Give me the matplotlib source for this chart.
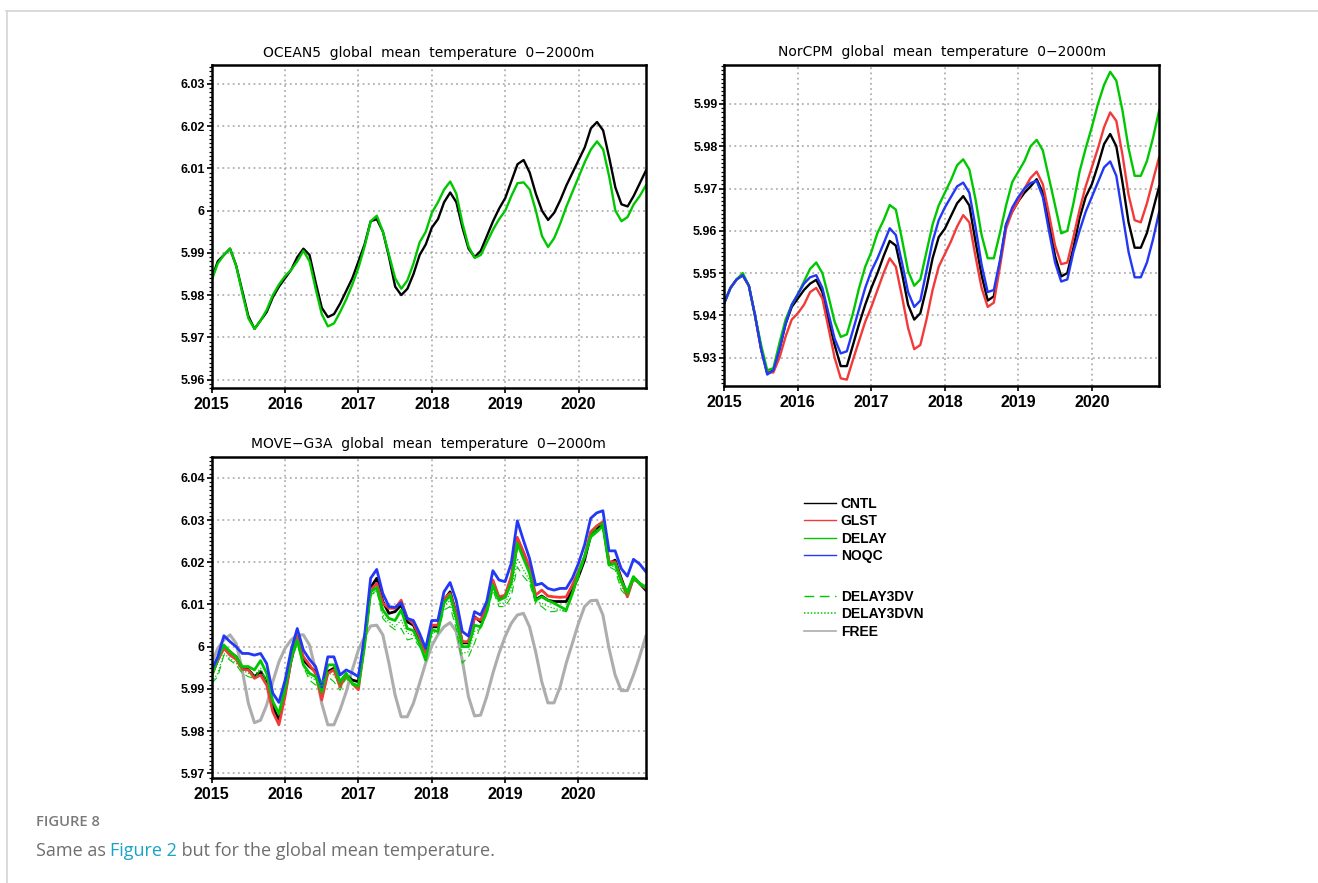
import numpy as np
import matplotlib
matplotlib.use("Agg")
import matplotlib.pyplot as plt
from matplotlib.lines import Line2D
from matplotlib.ticker import MultipleLocator

# monthly axis, Jan 2015 .. Dec 2020 (decimal years)
years = [2015, 2016, 2017, 2018, 2019, 2020]
months = 2015 + np.arange(72) / 12.0

# ---- OCEAN5 ----
oc5_cntl = [5.9839, 5.988, 5.9895, 5.991, 5.987, 5.981, 5.975, 5.972, 5.974, 5.976, 5.9795, 5.982,
            5.984, 5.986, 5.989, 5.991, 5.9895, 5.983, 5.977, 5.9748, 5.9755, 5.978, 5.981, 5.984,
            5.988, 5.992, 5.9975, 5.998, 5.995, 5.989, 5.982, 5.980, 5.9815, 5.985, 5.9895, 5.992,
            5.996, 5.998, 6.002, 6.0043, 6.002, 5.996, 5.991, 5.989, 5.9905, 5.994, 5.9975, 6.0005,
            6.003, 6.007, 6.011, 6.012, 6.009, 6.004, 6.000, 5.9978, 5.9995, 6.0025, 6.006, 6.009,
            6.012, 6.015, 6.0195, 6.021, 6.019, 6.0125, 6.0055, 6.0015, 6.001, 6.0035, 6.0065, 6.0095]
oc5_delay = [5.9835, 5.9875, 5.9895, 5.991, 5.987, 5.9805, 5.9745, 5.972, 5.974, 5.9765, 5.980, 5.9825,
             5.9845, 5.986, 5.988, 5.9905, 5.988, 5.9815, 5.9755, 5.9726, 5.9733, 5.976, 5.979, 5.9825,
             5.9865, 5.9915, 5.9975, 5.9988, 5.995, 5.9895, 5.984, 5.9815, 5.9835, 5.9875, 5.9925, 5.995,
             5.9995, 6.002, 6.005, 6.0069, 6.004, 5.997, 5.9915, 5.9888, 5.9895, 5.9925, 5.9955, 5.998,
             6.000, 6.0035, 6.0065, 6.0067, 6.005, 6.000, 5.994, 5.9914, 5.9935, 5.997, 6.001, 6.0045,
             6.008, 6.0115, 6.0145, 6.0164, 6.0145, 6.008, 6.000, 5.9975, 5.9985, 6.0015, 6.0035, 6.006]

# ---- NorCPM ----
nor_cntl = [5.943, 5.9465, 5.9485, 5.9495, 5.947, 5.940, 5.932, 5.9263, 5.927, 5.932, 5.938, 5.942,
            5.944, 5.946, 5.9475, 5.9484, 5.9455, 5.939, 5.933, 5.928, 5.928, 5.933, 5.938, 5.9425,
            5.9465, 5.950, 5.954, 5.9576, 5.9565, 5.950, 5.9425, 5.939, 5.9405, 5.9465, 5.9535, 5.9585,
            5.9605, 5.9635, 5.9665, 5.9682, 5.966, 5.9575, 5.9495, 5.9435, 5.9445, 5.9525, 5.9615, 5.9645,
            5.967, 5.969, 5.9705, 5.9722, 5.969, 5.962, 5.954, 5.9492, 5.950, 5.956, 5.963, 5.968,
            5.971, 5.9755, 5.9805, 5.9829, 5.980, 5.9715, 5.962, 5.956, 5.956, 5.9595, 5.965, 5.9705]
nor_glst = [5.943, 5.9465, 5.9485, 5.9495, 5.947, 5.940, 5.932, 5.9265, 5.9265, 5.930, 5.935, 5.939,
            5.9405, 5.9425, 5.9455, 5.9465, 5.944, 5.937, 5.930, 5.9251, 5.9248, 5.9295, 5.934, 5.9385,
            5.942, 5.946, 5.950, 5.9535, 5.9515, 5.9445, 5.937, 5.932, 5.933, 5.939, 5.946, 5.9515,
            5.9545, 5.9575, 5.961, 5.9637, 5.962, 5.954, 5.9465, 5.942, 5.943, 5.9515, 5.9605, 5.9645,
            5.967, 5.970, 5.9725, 5.974, 5.971, 5.964, 5.9565, 5.9521, 5.9525, 5.9585, 5.965, 5.9705,
            5.975, 5.9795, 5.9845, 5.988, 5.986, 5.978, 5.9685, 5.9625, 5.962, 5.9665, 5.972, 5.9775]
nor_delay = [5.943, 5.9465, 5.9485, 5.950, 5.947, 5.940, 5.933, 5.927, 5.9275, 5.9335, 5.939, 5.9425,
             5.945, 5.948, 5.951, 5.9525, 5.950, 5.9445, 5.9385, 5.9349, 5.9355, 5.9405, 5.9465, 5.9515,
             5.955, 5.9595, 5.9625, 5.9661, 5.965, 5.958, 5.9505, 5.947, 5.9485, 5.955, 5.9615, 5.966,
             5.969, 5.972, 5.9755, 5.9769, 5.9745, 5.9675, 5.959, 5.9535, 5.9535, 5.9595, 5.966, 5.9715,
             5.974, 5.9765, 5.980, 5.9815, 5.979, 5.9725, 5.966, 5.9594, 5.960, 5.9665, 5.974, 5.9795,
             5.9845, 5.990, 5.9945, 5.9976, 5.9955, 5.9885, 5.9795, 5.973, 5.973, 5.9765, 5.982, 5.9885]
nor_noqc = [5.943, 5.9465, 5.9485, 5.9495, 5.947, 5.940, 5.932, 5.926, 5.927, 5.932, 5.938, 5.9425,
            5.945, 5.9475, 5.949, 5.9495, 5.9465, 5.9405, 5.9345, 5.931, 5.9315, 5.9365, 5.9415, 5.9465,
            5.9505, 5.9535, 5.957, 5.9606, 5.959, 5.9525, 5.9455, 5.942, 5.9435, 5.9505, 5.9575, 5.9625,
            5.9655, 5.968, 5.9705, 5.9714, 5.969, 5.961, 5.952, 5.9455, 5.946, 5.953, 5.9615, 5.9655,
            5.968, 5.970, 5.9713, 5.9718, 5.968, 5.960, 5.9525, 5.948, 5.9485, 5.955, 5.960, 5.9645,
            5.968, 5.9715, 5.975, 5.9764, 5.973, 5.964, 5.955, 5.949, 5.949, 5.9525, 5.958, 5.9645]

# ---- MOVE-G3A ----
mv_cntl = [5.9933, 5.9968, 6.000, 5.9988, 5.9976, 5.9949, 5.9946, 5.9929, 5.9941, 5.9917, 5.9858, 5.9826,
           5.989, 5.9968, 6.0024, 5.9968, 5.9953, 5.9941, 5.9882, 5.9941, 5.9949, 5.9909, 5.9933, 5.9921,
           5.9917, 6.0016, 6.014, 6.0162, 6.0107, 6.0079, 6.0083, 6.0099, 6.0059, 6.0051, 6.002, 5.9988,
           6.0047, 6.0047, 6.011, 6.013, 6.0079, 6.0009, 6.0009, 6.0071, 6.0059, 6.0091, 6.0154, 6.0114,
           6.0118, 6.0158, 6.0245, 6.0217, 6.0182, 6.0112, 6.012, 6.011, 6.0107, 6.0107, 6.0107, 6.0134,
           6.0166, 6.0205, 6.0264, 6.028, 6.0292, 6.0197, 6.0205, 6.0162, 6.0122, 6.0164, 6.015, 6.0134]
mv_glst = [5.9933, 5.9968, 5.9996, 5.998, 5.997, 5.9946, 5.9945, 5.9925, 5.9933, 5.9909, 5.9846, 5.9815,
           5.9882, 5.9968, 6.0025, 5.9976, 5.9957, 5.9937, 5.9874, 5.9937, 5.9945, 5.9905, 5.9933, 5.9913,
           5.9898, 6.0008, 6.0134, 6.015, 6.0103, 6.0091, 6.0091, 6.011, 6.0067, 6.0055, 6.0024, 5.9986,
           6.0051, 6.0051, 6.0114, 6.0126, 6.0079, 6.0012, 6.0012, 6.0069, 6.0063, 6.0095, 6.0158, 6.0118,
           6.0122, 6.0166, 6.0259, 6.0225, 6.0189, 6.0122, 6.0134, 6.012, 6.0118, 6.0117, 6.0118, 6.0146,
           6.0178, 6.0213, 6.0272, 6.0286, 6.0296, 6.0201, 6.0201, 6.0158, 6.0118, 6.0162, 6.015, 6.0138]
mv_delay = [5.9929, 5.9972, 6.0004, 5.9988, 5.9976, 5.9953, 5.9953, 5.9945, 5.9967, 5.9937, 5.987, 5.9842,
            5.9901, 5.9976, 6.0016, 5.9957, 5.9937, 5.9929, 5.9893, 5.9957, 5.9957, 5.9917, 5.9937, 5.9913,
            5.9907, 6.000, 6.013, 6.014, 6.0087, 6.0067, 6.0062, 6.0087, 6.0043, 6.0038, 6.0008, 5.9968,
            6.004, 6.0036, 6.0103, 6.0122, 6.0067, 6.000, 6.000, 6.0051, 6.0047, 6.0083, 6.0146, 6.011,
            6.0117, 6.015, 6.0245, 6.0209, 6.0174, 6.011, 6.0118, 6.011, 6.0103, 6.0095, 6.0087, 6.0126,
            6.0174, 6.0213, 6.026, 6.0272, 6.0286, 6.0193, 6.0197, 6.0154, 6.013, 6.0166, 6.015, 6.014]
mv_noqc = [5.9945, 5.9976, 6.0026, 6.0012, 6.000, 5.9984, 5.9984, 5.998, 5.9984, 5.996, 5.989, 5.9868,
           5.992, 5.9992, 6.0043, 5.9992, 5.997, 5.9953, 5.9905, 5.9976, 5.9976, 5.9933, 5.9945, 5.9938,
           5.9929, 6.0024, 6.0162, 6.0183, 6.0126, 6.0095, 6.0093, 6.0104, 6.0067, 6.0062, 6.0032, 5.9996,
           6.0062, 6.0062, 6.013, 6.0152, 6.011, 6.0036, 6.0025, 6.0083, 6.0075, 6.0107, 6.018, 6.0158,
           6.0154, 6.0197, 6.0298, 6.0252, 6.0209, 6.0146, 6.015, 6.0138, 6.0134, 6.0138, 6.0138, 6.0162,
           6.0197, 6.0241, 6.0304, 6.0317, 6.0322, 6.0227, 6.0227, 6.0185, 6.0167, 6.0207, 6.0196, 6.0178]
mv_delay3dv = [5.9913, 5.9929, 5.998, 5.9968, 5.9957, 5.9937, 5.9929, 5.9925, 5.9945, 5.9917, 5.9874, 5.9838,
               5.989, 5.9961, 6.0008, 5.9953, 5.9921, 5.9909, 5.9917, 5.9929, 5.9917, 5.9897, 5.9925, 5.9909,
               5.9905, 5.9996, 6.0122, 6.0134, 6.0067, 6.0051, 6.004, 6.0043, 6.0016, 6.002, 6.000, 5.9976,
               6.0032, 6.0032, 6.0087, 6.0095, 6.0043, 5.9961, 5.9976, 6.0008, 6.0051, 6.0075, 6.0134, 6.0095,
               6.0095, 6.0118, 6.0189, 6.0166, 6.015, 6.0103, 6.0095, 6.0083, 6.0083, 6.0087, 6.0083, 6.0122,
               6.0162, 6.0209, 6.0264, 6.028, 6.0292, 6.0189, 6.0182, 6.0134, 6.0118, 6.0158, 6.0146, 6.0146]
mv_delay3dvn = [5.9917, 5.9937, 5.9984, 5.9972, 5.9961, 5.9945, 5.9937, 5.9933, 5.9949, 5.9921, 5.987, 5.9838,
                5.9893, 5.9964, 6.0012, 5.9953, 5.9929, 5.9921, 5.9905, 5.9937, 5.9933, 5.9909, 5.9929, 5.9913,
                5.9905, 6.000, 6.0118, 6.0134, 6.0075, 6.0059, 6.0047, 6.0063, 6.0032, 6.0028, 6.0004, 5.9976,
                6.0036, 6.0032, 6.0095, 6.011, 6.0055, 5.9984, 5.9988, 6.0036, 6.0043, 6.0079, 6.0138, 6.0103,
                6.0103, 6.0134, 6.0209, 6.0182, 6.0158, 6.0107, 6.0103, 6.0095, 6.0091, 6.0087, 6.0083, 6.0122,
                6.017, 6.0213, 6.0268, 6.0284, 6.0296, 6.0193, 6.0189, 6.0142, 6.0122, 6.0162, 6.015, 6.0146]
mv_free = [5.9961, 5.9996, 6.0016, 6.0028, 6.0008, 5.9945, 5.9866, 5.982, 5.9826, 5.9862, 5.9917, 5.9964,
           5.9996, 6.0016, 6.0028, 6.0028, 6.0004, 5.9945, 5.9866, 5.9815, 5.9815, 5.985, 5.9893, 5.9945,
           5.9992, 6.0024, 6.0049, 6.0051, 6.0028, 5.9961, 5.9886, 5.9834, 5.9834, 5.9866, 5.9913, 5.9961,
           6.0002, 6.0028, 6.0047, 6.0057, 6.0036, 5.9968, 5.9882, 5.9836, 5.9838, 5.9882, 5.9937, 5.9984,
           6.0024, 6.0055, 6.0075, 6.0079, 6.0047, 5.9988, 5.9917, 5.9867, 5.9867, 5.9905, 5.9961, 6.0008,
           6.0055, 6.0095, 6.0109, 6.011, 6.0075, 5.9996, 5.9933, 5.9896, 5.9896, 5.9933, 5.9976, 6.0024]

oc5_ticks = [5.96, 5.97, 5.98, 5.99, 6.00, 6.01, 6.02, 6.03]
oc5_labels = ["5.96", "5.97", "5.98", "5.99", "6", "6.01", "6.02", "6.03"]
nor_ticks = [5.93, 5.94, 5.95, 5.96, 5.97, 5.98, 5.99]
nor_labels = ["5.93", "5.94", "5.95", "5.96", "5.97", "5.98", "5.99"]
mv_ticks = [5.97, 5.98, 5.99, 6.00, 6.01, 6.02, 6.03, 6.04]
mv_labels = ["5.97", "5.98", "5.99", "6", "6.01", "6.02", "6.03", "6.04"]

C_BLACK = "#000000"
C_RED = "#f23a3a"
C_GREEN = "#00c800"
C_BLUE = "#2338f5"
C_GRAY = "#adadad"

TICKFONT = ["Liberation Sans", "DejaVu Sans"]
CAPFONT = ["Open Sans", "DejaVu Sans"]


def style_axes(ax, yticks, ylabels, ylim, title):
    ax.set_xlim(2015, months[-1])
    ax.set_ylim(*ylim)
    ax.set_xticks(years)
    ax.set_xticklabels([str(y) for y in years], fontsize=11.5, fontweight="bold",
                       family=TICKFONT)
    ax.set_yticks(yticks)
    ax.set_yticklabels(ylabels, fontsize=9, fontweight="bold", family=TICKFONT)
    ax.yaxis.set_minor_locator(MultipleLocator(0.001))
    ax.tick_params(axis="y", which="major", direction="out", length=3.5, width=1.2, pad=1.5)
    ax.tick_params(axis="y", which="minor", direction="out", length=2, width=0.9)
    ax.tick_params(axis="x", which="major", direction="out", length=3.5, width=1.2, pad=3)
    ax.grid(True, which="major", color="#a3a3a3", linestyle=(0, (1.2, 2.2)), linewidth=1.1)
    for s in ax.spines.values():
        s.set_linewidth(1.8)
    ax.set_title(title, fontsize=10, family="DejaVu Sans", pad=6)


fig = plt.figure(figsize=(13.18, 8.83), dpi=100)

# page frame
fig.add_artist(Line2D([6 / 1318, 1], [1 - 11 / 883, 1 - 11 / 883], color="#d4d4d4", lw=1.2,
                      transform=fig.transFigure))
fig.add_artist(Line2D([6.5 / 1318, 6.5 / 1318], [0, 1 - 11 / 883], color="#d4d4d4", lw=1.2,
                      transform=fig.transFigure))

ax1 = fig.add_axes([0.1606, 0.5606, 0.3295, 0.3658])
ax2 = fig.add_axes([0.5496, 0.5629, 0.3299, 0.3639])
ax3 = fig.add_axes([0.1606, 0.1189, 0.3293, 0.3639])

LW = 1.7
ax1.plot(months, oc5_cntl, color=C_BLACK, lw=LW)
ax1.plot(months, oc5_delay, color=C_GREEN, lw=LW)
style_axes(ax1, oc5_ticks, oc5_labels, (5.958, 6.0345),
           "OCEAN5  global  mean  temperature  0\u22122000m")

ax2.plot(months, nor_cntl, color=C_BLACK, lw=LW)
ax2.plot(months, nor_glst, color=C_RED, lw=LW)
ax2.plot(months, nor_delay, color=C_GREEN, lw=LW)
ax2.plot(months, nor_noqc, color=C_BLUE, lw=LW)
style_axes(ax2, nor_ticks, nor_labels, (5.9233, 5.9993),
           "NorCPM  global  mean  temperature  0\u22122000m")

LW3 = 2.0
ax3.plot(months, mv_free, color=C_GRAY, lw=2.2)
ax3.plot(months, mv_cntl, color=C_BLACK, lw=LW3)
ax3.plot(months, mv_glst, color=C_RED, lw=LW3)
ax3.plot(months, mv_delay, color=C_GREEN, lw=LW3)
ax3.plot(months, mv_noqc, color=C_BLUE, lw=LW3)
ax3.plot(months, mv_delay3dv, color=C_GREEN, lw=0.8, dashes=(7, 4))
ax3.plot(months, mv_delay3dvn, color=C_GREEN, lw=0.9, linestyle=(0, (1, 1.5)))
style_axes(ax3, mv_ticks, mv_labels, (5.9689, 6.045),
           "MOVE\u2212G3A  global  mean  temperature  0\u22122000m")

# legends (two blocks)
leg_font = {"family": TICKFONT, "weight": "bold", "size": 10}
h1 = [Line2D([], [], color=C_BLACK, lw=1.0), Line2D([], [], color=C_RED, lw=1.0),
      Line2D([], [], color=C_GREEN, lw=1.0), Line2D([], [], color=C_BLUE, lw=1.0)]
h2 = [Line2D([], [], color=C_GREEN, lw=1.0, dashes=(7, 4)),
      Line2D([], [], color=C_GREEN, lw=1.1, linestyle=(0, (1, 1.2))),
      Line2D([], [], color=C_GRAY, lw=1.2)]
common = dict(frameon=False, handlelength=2.3, handletextpad=0.35, labelspacing=0.24,
              borderaxespad=0, borderpad=0, prop=leg_font, loc="upper left")
fig.legend(h1, ["CNTL", "GLST", "DELAY", "NOQC"], bbox_to_anchor=(804 / 1318, 1 - 497 / 883), **common)
fig.legend(h2, ["DELAY3DV", "DELAY3DVN", "FREE"], bbox_to_anchor=(804 / 1318, 1 - 590 / 883), **common)

# caption
fig.text(36 / 1318, 1 - 822 / 883, "FIGURE 8", fontsize=10.6, color="#7a7a7a", fontweight="semibold",
         family=CAPFONT, va="center", ha="left")
t1 = fig.text(36 / 1318, 1 - 851 / 883, "Same as ", fontsize=13, color="#6e6e6e",
              family=CAPFONT, va="center", ha="left")
t2 = plt.annotate("Figure 2", xy=(1, 0), xycoords=t1, va="bottom", ha="left", fontsize=13,
                  color="#1aa3c4", family=CAPFONT, annotation_clip=False)
t3 = plt.annotate(" but for the global mean temperature.", xy=(1, 0), xycoords=t2, va="bottom",
                  ha="left", fontsize=13, color="#6e6e6e", family=CAPFONT,
                  annotation_clip=False)

fig.savefig("out.png", dpi=100)
